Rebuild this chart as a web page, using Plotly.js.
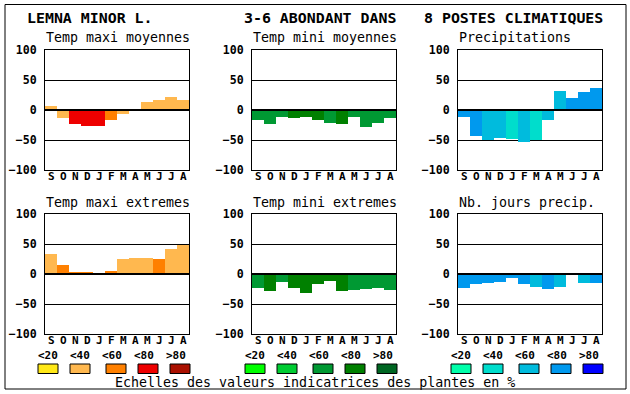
<!DOCTYPE html>
<html>
<head>
<meta charset="utf-8">
<script src="https://cdn.plot.ly/plotly-3.0.1.min.js"></script>
<style>html,body{margin:0;padding:0;background:#fff;}#chart{width:630px;height:394px;}</style>
</head>
<body>
<div id="chart"></div>
<script>
// ---- data ----
const months = ['S','O','N','D','J','F','M','A','M','J','J','A'];
const scaleLabels = ['<20','<40','<60','<80','>80'];

const tmaxMoy      = [7,-13,-24,-26,-26,-16,-7,2,13,17,22,17];
const tmaxMoyCls   = [1,1,3,3,3,2,1,1,1,1,1,1];
const tminMoy      = [-17,-24,-12,-14,-11,-17,-21,-24,-11,-28,-21,-14];
const tminMoyCls   = [2,2,2,3,3,3,2,3,2,2,2,2];
const precip       = [-12,-44,-50,-46,-48,-54,-50,-17,32,20,30,37];
const precipCls    = [3,3,2,2,1,2,1,2,2,3,3,3];
const tmaxExt      = [33,15,3,3,2,5,25,27,27,25,42,48];
const tmaxExtCls   = [1,2,2,2,1,2,1,1,1,2,1,1];
const tminExt      = [-24,-28,-14,-24,-31,-17,-12,-28,-26,-25,-23,-26];
const tminExtCls   = [2,3,2,3,3,3,3,3,2,2,2,2];
const joursPrecip    = [-23,-17,-15,-13,-7,-17,-21,-25,-21,0,-15,-15];
const joursPrecipCls = [3,3,3,3,3,3,2,3,2,3,2,3];

const firePal  = ['#FFE817','#FFB84F','#FF8000','#EE0000','#AA1000'];
const greenPal = ['#00FF00','#00CC33','#009933','#008000','#006622'];
const bluePal  = ['#00FFAA','#00DDCC','#00BBDD','#0099EE','#0000FF'];

const mainTitles = ['LEMNA MINOR L.','3-6 ABONDANT DANS','8 POSTES CLIMATIQUES'];
const footer = 'Echelles des valeurs indicatrices des plantes en %';

const panels = [
  {title:'Temp maxi moyennes', y:tmaxMoy, cls:tmaxMoyCls, pal:firePal, col:0, row:0},
  {title:'Temp mini moyennes', y:tminMoy, cls:tminMoyCls, pal:greenPal, col:1, row:0},
  {title:'Precipitations', y:precip, cls:precipCls, pal:bluePal, col:2, row:0},
  {title:'Temp maxi extremes', y:tmaxExt, cls:tmaxExtCls, pal:firePal, col:0, row:1},
  {title:'Temp mini extremes', y:tminExt, cls:tminExtCls, pal:greenPal, col:1, row:1},
  {title:'Nb. jours precip.', y:joursPrecip, cls:joursPrecipCls, pal:bluePal, col:2, row:1}
];
const legendPals = [firePal, greenPal, bluePal];

// ---- layout geometry ----
const W = 630, H = 394;
const colLeft = [45, 252, 458];
const rowTop = [50, 214];
const pw = 144, ph = 120;
const mono = 'DejaVu Sans Mono, Liberation Mono, monospace';
const xIdx = months.map((m,i)=>i);

const traces = [];
const layout = {
  width: W, height: H,
  margin: {l:0, r:0, t:0, b:0},
  paper_bgcolor: '#fff', plot_bgcolor: '#fff',
  showlegend: false,
  bargap: 0,
  font: {family: mono, color: '#000'},
  annotations: [], shapes: []
};

panels.forEach((p, k) => {
  const n = k + 1;
  const xa = n === 1 ? 'x' : 'x' + n;
  const ya = n === 1 ? 'y' : 'y' + n;
  const xk = n === 1 ? 'xaxis' : 'xaxis' + n;
  const yk = n === 1 ? 'yaxis' : 'yaxis' + n;
  const l = colLeft[p.col], t = rowTop[p.row];
  traces.push({
    type: 'bar', x: xIdx, y: p.y, xaxis: xa, yaxis: ya,
    marker: {color: p.cls.map(c => p.pal[c]), line: {width: 0}},
    hoverinfo: 'skip'
  });
  layout[xk] = {
    domain: [l / W, (l + pw) / W], anchor: ya,
    range: [-0.5, 11.5], fixedrange: true,
    tickmode: 'array', tickvals: xIdx, ticktext: months,
    ticks: '', showgrid: false, zeroline: false,
    showline: true, mirror: true, linecolor: '#000', linewidth: 1,
    showticklabels: false
  };
  layout[yk] = {
    domain: [(H - (t + ph)) / H, (H - t) / H], anchor: xa,
    range: [-100, 100], fixedrange: true,
    tickmode: 'array', tickvals: [-100, -50, 0, 50, 100],
    ticktext: ['\u2212100', '\u221250', '0', '50', '100'],
    ticks: '', showgrid: true, gridcolor: '#000', gridwidth: 1,
    zeroline: false,
    showline: true, mirror: true, linecolor: '#000', linewidth: 1,
    tickfont: {family: mono, size: 11.6, weight: 'bold', color: '#000'},
    ticklabelstandoff: 5
  };
  // month labels under each bar (placed on the x scale)
  months.forEach((m, i) => {
    layout.annotations.push({
      xref: xa, yref: 'paper', x: xIdx[i], y: (H - (t + ph + 6.5)) / H,
      xanchor: 'center', yanchor: 'middle', showarrow: false, borderpad: 0,
      text: m, font: {family: mono, size: 11, weight: 'bold', color: '#000'}
    });
  });
  // zero line above bars
  layout.shapes.push({
    type: 'line', xref: xa + ' domain', yref: ya,
    x0: 0, x1: 1, y0: 0, y1: 0, layer: 'above',
    line: {color: '#000', width: 2}
  });
  // subplot title
  layout.annotations.push({
    xref: 'paper', yref: 'paper', x: l / W, y: (H - (t - 12)) / H,
    xanchor: 'left', yanchor: 'middle', showarrow: false, borderpad: 0,
    text: p.title, font: {family: mono, size: 13.3, color: '#000'}
  });
});

// main titles
const mainX = [26, 242.5, 423];
mainTitles.forEach((txt, i) => {
  layout.annotations.push({
    xref: 'paper', yref: 'paper', x: mainX[i] / W, y: (H - 18) / H,
    xanchor: 'left', yanchor: 'middle', showarrow: false, borderpad: 0,
    text: txt, font: {family: mono, size: 14.9, weight: 'bold', color: '#000'}
  });
});

// scale legends
const labelOff = [3, 35, 67, 99, 131];
const swatchOff = [-7, 25, 61, 93, 125];
legendPals.forEach((pal, c) => {
  const l = colLeft[c];
  scaleLabels.forEach((lab, i) => {
    layout.annotations.push({
      xref: 'paper', yref: 'paper', x: (l + labelOff[i]) / W, y: (H - 355) / H,
      xanchor: 'center', yanchor: 'middle', showarrow: false, borderpad: 0,
      text: lab.replace('<', '&lt;').replace('>', '&gt;'),
      font: {family: mono, size: 11, weight: 'bold', color: '#000'}
    });
    layout.shapes.push({
      type: 'rect', xref: 'paper', yref: 'paper',
      x0: (l + swatchOff[i]) / W, x1: (l + swatchOff[i] + 20) / W,
      y0: (H - 373.5) / H, y1: (H - 364) / H,
      fillcolor: pal[i], line: {color: '#000', width: 1}
    });
  });
});

// footer
layout.annotations.push({
  xref: 'paper', yref: 'paper', x: 315 / W, y: (H - 382) / H,
  xanchor: 'center', yanchor: 'middle', showarrow: false, borderpad: 0,
  text: footer, font: {family: mono, size: 13.3, color: '#000'}
});

// outer frame
layout.shapes.push({
  type: 'rect', xref: 'paper', yref: 'paper',
  x0: 5 / W, x1: 626 / W, y0: (H - 389) / H, y1: (H - 4.5) / H,
  line: {color: '#000', width: 1}, fillcolor: 'rgba(0,0,0,0)'
});

Plotly.newPlot('chart', traces, layout, {staticPlot: true, displayModeBar: false});
</script>
</body>
</html>
